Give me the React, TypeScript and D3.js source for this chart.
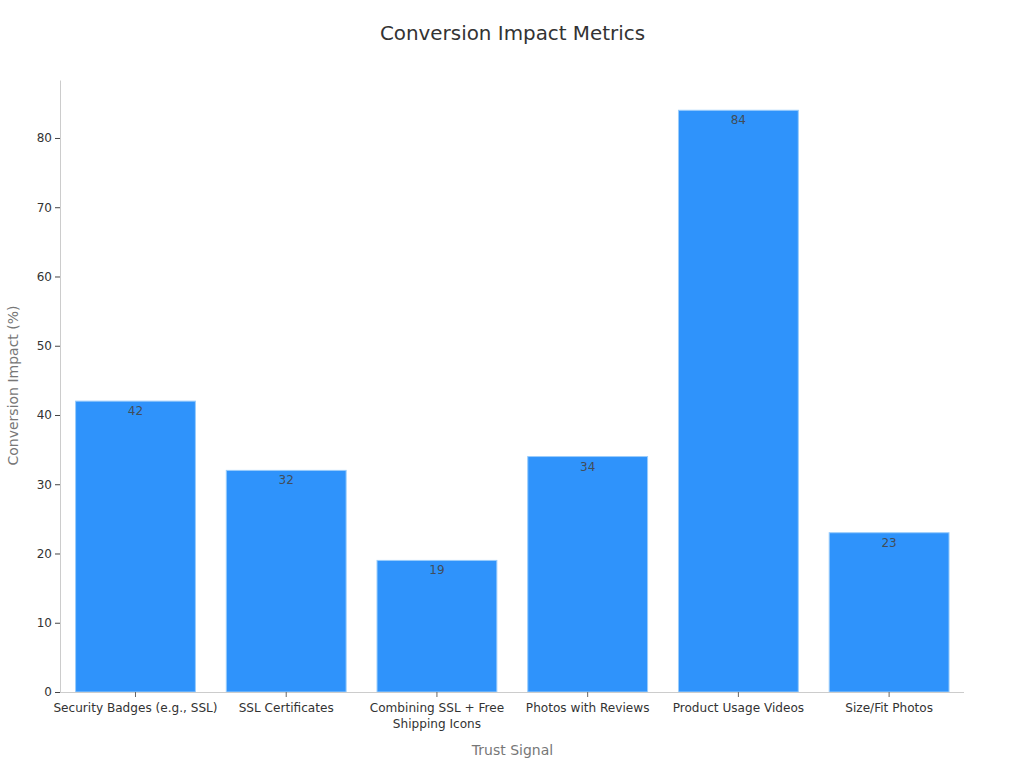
import React, { useEffect, useRef } from "react";
import * as d3 from "d3";

const categories = [
  "Security Badges (e.g., SSL)",
  "SSL Certificates",
  "Combining SSL + Free|Shipping Icons",
  "Photos with Reviews",
  "Product Usage Videos",
  "Size/Fit Photos",
];
const impact = [42, 32, 19, 34, 84, 23];
const yTicks = [0, 10, 20, 30, 40, 50, 60, 70, 80];

const width = 1024;
const height = 768;
const left = 60;
const right = 964;
const bottom = 692;
const top = 80.5;
const font = "'DejaVu Sans', sans-serif";

const App: React.FC = () => {
  const svgRef = useRef<SVGSVGElement>(null);

  useEffect(() => {
    const svg = d3.select(svgRef.current);
    svg.selectAll("*").remove();

    const x = d3
      .scaleBand<string>()
      .domain(categories)
      .range([left + 0.5, right + 0.1])
      .paddingInner(0.205)
      .paddingOuter(0.1);
    const y = d3.scaleLinear().domain([0, 88.3]).range([bottom, top]);

    // bars
    svg
      .append("g")
      .selectAll("rect")
      .data(categories)
      .enter()
      .append("rect")
      .attr("x", (d) => x(d)!)
      .attr("y", (d, i) => y(impact[i]))
      .attr("width", x.bandwidth())
      .attr("height", (d, i) => bottom - y(impact[i]))
      .attr("fill", "#2f93fb")
      .attr("stroke", "#9accfb")
      .attr("stroke-width", 1);

    // value labels
    svg
      .append("g")
      .selectAll("text")
      .data(categories)
      .enter()
      .append("text")
      .attr("x", (d) => x(d)! + x.bandwidth() / 2)
      .attr("y", (d, i) => y(impact[i]) + 14)
      .attr("text-anchor", "middle")
      .attr("font-family", font)
      .attr("font-size", 12)
      .attr("fill", "#444")
      .attr("fill-opacity", 0.9)
      .text((d, i) => impact[i]);

    // y axis
    const yAxis = svg
      .append("g")
      .attr("transform", `translate(${left},0)`)
      .call(d3.axisLeft(y).tickValues(yTicks).tickSize(5).tickPadding(3));
    yAxis.select(".domain").attr("stroke", "#ccc").attr("d", `M0.5,${top}V${bottom}`);
    yAxis.selectAll(".tick line").attr("stroke", "#444");
    yAxis
      .selectAll(".tick text")
      .attr("font-family", font)
      .attr("font-size", 12)
      .attr("fill", "#333");

    // x axis
    const xAxis = svg
      .append("g")
      .attr("transform", `translate(0,${bottom})`)
      .call(d3.axisBottom(x).tickSize(5).tickPadding(4));
    xAxis.select(".domain").attr("stroke", "#ccc").attr("d", `M${left},0.5H${right}`);
    xAxis.selectAll(".tick line").attr("stroke", "#666");
    xAxis.selectAll<SVGTextElement, string>(".tick text").each(function (d) {
      const text = d3.select(this);
      text.text(null).attr("font-family", font).attr("font-size", 12.1).attr("fill", "#333");
      d.split("|").forEach((part, i) => {
        text
          .append("tspan")
          .attr("x", 0)
          .attr("y", 11 + i * 16)
          .attr("dy", "0.71em")
          .text(part);
      });
    });

    svg
      .append("text")
      .attr("x", 512.5)
      .attr("y", 40)
      .attr("text-anchor", "middle")
      .attr("font-family", font)
      .attr("font-size", 19.9)
      .attr("fill", "#333")
      .text("Conversion Impact Metrics");

    svg
      .append("text")
      .attr("x", 512.5)
      .attr("y", 755)
      .attr("text-anchor", "middle")
      .attr("font-family", font)
      .attr("font-size", 14)
      .attr("fill", "#777")
      .text("Trust Signal");

    svg
      .append("text")
      .attr("transform", "translate(18,385.5) rotate(-90)")
      .attr("text-anchor", "middle")
      .attr("font-family", font)
      .attr("font-size", 14)
      .attr("fill", "#777")
      .text("Conversion Impact (%)");
  }, []);

  return (
    <svg
      ref={svgRef}
      width={width}
      height={height}
      style={{ position: "absolute", left: 0, top: 0, background: "#fff" }}
    />
  );
};

export default App;
